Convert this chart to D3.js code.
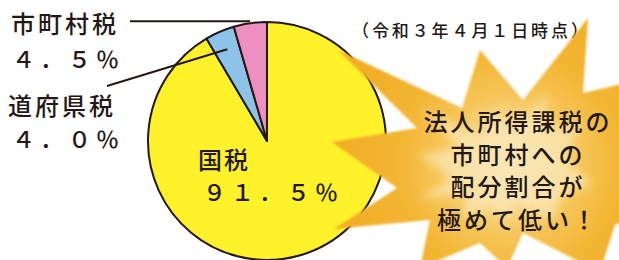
<!DOCTYPE html>
<html><head><meta charset="utf-8">
<script src="https://cdn.jsdelivr.net/npm/d3@7"></script>
<style>
html,body{margin:0;padding:0;background:#fff;}
svg{display:block;}
text{font-family:"Noto Sans CJK JP","Noto Sans CJK SC",sans-serif;fill:#231815;font-weight:500;}
</style></head>
<body>
<svg id="chart" width="619" height="260"></svg>
<script>
// ---- data ----
const categories = ["国税", "道府県税", "市町村税"];
const values = [91.5, 4.0, 4.5];
const colors = ["#FFF12A", "#8DC2E9", "#EE90BF"];
const subtitle = "（令和３年４月１日時点）";
const calloutLines = ["法人所得課税の", "市町村への", "配分割合が", "極めて低い！"];

const toFull = s => s.replace(/[0-9.%]/g, c => c === "." ? "．" : c === "%" ? "％" : String.fromCharCode(c.charCodeAt(0) + 0xFEE0));
const pctLabel = v => toFull(v.toFixed(1) + "%");

const svg = d3.select("#chart");
const cx = 267, cy = 141, R = 119;

// ---- pie ----
const pie = d3.pie().sort(null).value(d => d)(values);
const arc = d3.arc().innerRadius(0).outerRadius(R);
const g = svg.append("g").attr("transform", `translate(${cx},${cy})`);
g.selectAll("path").data(pie).join("path")
  .attr("d", arc)
  .attr("fill", (d, i) => colors[i])
  .attr("stroke", "#231815").attr("stroke-width", 2).attr("stroke-linejoin", "round");

// leader lines computed from slice mid angles
const mid = d => (d.startAngle + d.endAngle) / 2;
const pt = (d, r) => [cx + r * Math.sin(mid(d)), cy - r * Math.cos(mid(d))];
const pPink = pt(pie[2], R + 1);
svg.append("line").attr("x1", 130).attr("y1", pPink[1] - 1).attr("x2", pPink[0]).attr("y2", pPink[1] - 1)
  .attr("stroke", "#231815").attr("stroke-width", 2);
const pBlue = pt(pie[1], R * 0.84);
svg.append("line").attr("x1", 107).attr("y1", 86).attr("x2", pBlue[0]).attr("y2", pBlue[1])
  .attr("stroke", "#231815").attr("stroke-width", 2);

// labels
const labelPos = [
  {name: [198, 169], val: [203, 201]},
  {name: [8, 115], val: [12, 148]},
  {name: [11, 33], val: [12, 68]}
];
categories.forEach((c, i) => {
  svg.append("text").attr("x", labelPos[i].name[0]).attr("y", labelPos[i].name[1])
    .attr("font-size", 24).attr("letter-spacing", i === 0 ? 2 : 3).text(c);
  svg.append("text").attr("x", labelPos[i].val[0]).attr("y", labelPos[i].val[1])
    .attr("font-size", 23).attr("letter-spacing", 5).text(pctLabel(values[i]));
});

// subtitle
svg.append("text").attr("x", 352).attr("y", 37).attr("font-size", 17).attr("letter-spacing", 2.9).text(subtitle);

// ---- starburst callout ----
const defs = svg.append("defs");
const grad = defs.append("radialGradient").attr("id", "sg")
  .attr("gradientUnits", "userSpaceOnUse").attr("cx", 510).attr("cy", 165).attr("r", 170);
[[0, "#FBEAC0"], [0.22, "#F9DC96"], [0.42, "#F6C557"], [0.65, "#F3B634"], [1, "#F1AE26"]]
  .forEach(([o, c]) => grad.append("stop").attr("offset", o).attr("stop-color", c));
defs.append("filter").attr("id", "blur").append("feGaussianBlur").attr("stdDeviation", 0.8);
defs.append("filter").attr("id", "blur2").append("feGaussianBlur").attr("stdDeviation", 4);

const star = [[480,50],[523,100],[588,18],[583,93],[660,75],[625,150],[680,200],[615,225],[600,272],[523,233],
  [507,268],[480,243],[420,268],[430,220],[334,229],[397,188],[332,142],[417,128],[338,50],[462,108]];
const line = d3.line().curve(d3.curveLinearClosed);
svg.append("path").attr("d", line(star)).attr("fill", "url(#sg)").attr("filter", "url(#blur)");
// inner glow: scaled star
const sc = 0.5, ox = 505, oy = 168;
const inner = star.map(([x, y]) => [ox + (x - ox) * sc, oy + (y - oy) * sc]);
svg.append("path").attr("d", line(inner)).attr("fill", "#FBE6B2").attr("opacity", 0.75).attr("filter", "url(#blur2)");

calloutLines.forEach((t, i) => {
  svg.append("text").attr("x", 518).attr("y", 131 + i * 32.5).attr("text-anchor", "middle")
    .attr("font-size", 24).attr("letter-spacing", 3).text(t);
});
</script>
</body></html>
